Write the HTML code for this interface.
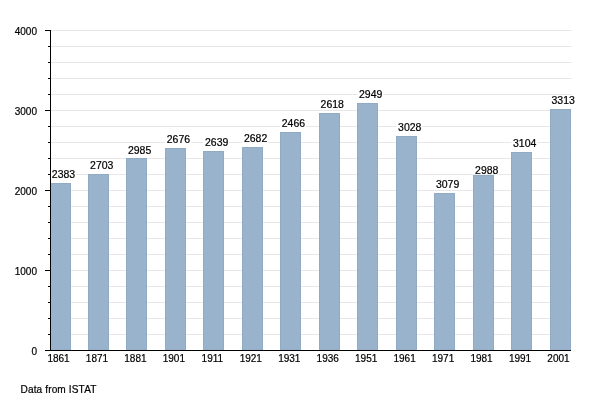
<!DOCTYPE html>
<html><head><meta charset="utf-8"><style>
html,body{margin:0;padding:0;background:#fff;width:600px;height:400px;overflow:hidden}
svg{display:block;will-change:transform}
text{font-family:"Liberation Sans",sans-serif;font-size:10.3px;fill:#000;stroke:#000;stroke-width:0.2px}
</style></head><body>
<svg width="600" height="400" viewBox="0 0 600 400">
<rect x="0" y="0" width="600" height="400" fill="#fff"/>
<line x1="51" y1="334.5" x2="571.5" y2="334.5" stroke="#e8e6e6" stroke-width="1"/>
<line x1="51" y1="318.5" x2="571.5" y2="318.5" stroke="#e8e6e6" stroke-width="1"/>
<line x1="51" y1="302.5" x2="571.5" y2="302.5" stroke="#e8e6e6" stroke-width="1"/>
<line x1="51" y1="286.5" x2="571.5" y2="286.5" stroke="#e8e6e6" stroke-width="1"/>
<line x1="51" y1="270.5" x2="571.5" y2="270.5" stroke="#e8e6e6" stroke-width="1"/>
<line x1="51" y1="254.5" x2="571.5" y2="254.5" stroke="#e8e6e6" stroke-width="1"/>
<line x1="51" y1="238.5" x2="571.5" y2="238.5" stroke="#e8e6e6" stroke-width="1"/>
<line x1="51" y1="222.5" x2="571.5" y2="222.5" stroke="#e8e6e6" stroke-width="1"/>
<line x1="51" y1="206.5" x2="571.5" y2="206.5" stroke="#e8e6e6" stroke-width="1"/>
<line x1="51" y1="190.5" x2="571.5" y2="190.5" stroke="#e8e6e6" stroke-width="1"/>
<line x1="51" y1="174.5" x2="571.5" y2="174.5" stroke="#e8e6e6" stroke-width="1"/>
<line x1="51" y1="158.5" x2="571.5" y2="158.5" stroke="#e8e6e6" stroke-width="1"/>
<line x1="51" y1="142.5" x2="571.5" y2="142.5" stroke="#e8e6e6" stroke-width="1"/>
<line x1="51" y1="126.5" x2="571.5" y2="126.5" stroke="#e8e6e6" stroke-width="1"/>
<line x1="51" y1="110.5" x2="571.5" y2="110.5" stroke="#e8e6e6" stroke-width="1"/>
<line x1="51" y1="94.5" x2="571.5" y2="94.5" stroke="#e8e6e6" stroke-width="1"/>
<line x1="51" y1="78.5" x2="571.5" y2="78.5" stroke="#e8e6e6" stroke-width="1"/>
<line x1="51" y1="62.5" x2="571.5" y2="62.5" stroke="#e8e6e6" stroke-width="1"/>
<line x1="51" y1="46.5" x2="571.5" y2="46.5" stroke="#e8e6e6" stroke-width="1"/>
<line x1="51" y1="30.5" x2="571.5" y2="30.5" stroke="#e8e6e6" stroke-width="1"/>
<rect x="50.5" y="183.5" width="20" height="166.5" fill="#99b3cc" stroke="#91abc5" stroke-width="1"/>
<rect x="88.5" y="174.5" width="20" height="175.5" fill="#99b3cc" stroke="#91abc5" stroke-width="1"/>
<rect x="126.5" y="158.5" width="20" height="191.5" fill="#99b3cc" stroke="#91abc5" stroke-width="1"/>
<rect x="165.5" y="148.5" width="20" height="201.5" fill="#99b3cc" stroke="#91abc5" stroke-width="1"/>
<rect x="203.5" y="151.5" width="20" height="198.5" fill="#99b3cc" stroke="#91abc5" stroke-width="1"/>
<rect x="242.5" y="147.5" width="20" height="202.5" fill="#99b3cc" stroke="#91abc5" stroke-width="1"/>
<rect x="280.5" y="132.5" width="20" height="217.5" fill="#99b3cc" stroke="#91abc5" stroke-width="1"/>
<rect x="319.5" y="113.5" width="20" height="236.5" fill="#99b3cc" stroke="#91abc5" stroke-width="1"/>
<rect x="357.5" y="103.5" width="20" height="246.5" fill="#99b3cc" stroke="#91abc5" stroke-width="1"/>
<rect x="396.5" y="136.5" width="20" height="213.5" fill="#99b3cc" stroke="#91abc5" stroke-width="1"/>
<rect x="434.5" y="193.5" width="20" height="156.5" fill="#99b3cc" stroke="#91abc5" stroke-width="1"/>
<rect x="473.5" y="175.5" width="20" height="174.5" fill="#99b3cc" stroke="#91abc5" stroke-width="1"/>
<rect x="511.5" y="152.5" width="20" height="197.5" fill="#99b3cc" stroke="#91abc5" stroke-width="1"/>
<rect x="550.5" y="109.5" width="20" height="240.5" fill="#99b3cc" stroke="#91abc5" stroke-width="1"/>
<rect x="50.00" y="168.90" width="26" height="9.6" fill="#fff"/>
<text transform="translate(51.80,177.70) scale(1.05,1)" style="font-size:10px">2383</text>
<rect x="88.30" y="160.30" width="26" height="9.6" fill="#fff"/>
<text transform="translate(90.10,169.10) scale(1.05,1)" style="font-size:10px">2703</text>
<rect x="126.10" y="144.90" width="26" height="9.6" fill="#fff"/>
<text transform="translate(127.90,153.70) scale(1.05,1)" style="font-size:10px">2985</text>
<rect x="164.90" y="134.10" width="26" height="9.6" fill="#fff"/>
<text transform="translate(166.70,142.90) scale(1.05,1)" style="font-size:10px">2676</text>
<rect x="203.20" y="137.20" width="26" height="9.6" fill="#fff"/>
<text transform="translate(205.00,146.00) scale(1.05,1)" style="font-size:10px">2639</text>
<rect x="242.10" y="133.20" width="26" height="9.6" fill="#fff"/>
<text transform="translate(243.90,142.00) scale(1.05,1)" style="font-size:10px">2682</text>
<rect x="279.90" y="118.10" width="26" height="9.6" fill="#fff"/>
<text transform="translate(281.70,126.90) scale(1.05,1)" style="font-size:10px">2466</text>
<rect x="318.80" y="99.30" width="26" height="9.6" fill="#fff"/>
<text transform="translate(320.60,108.10) scale(1.05,1)" style="font-size:10px">2618</text>
<rect x="357.20" y="89.10" width="26" height="9.6" fill="#fff"/>
<text transform="translate(359.00,97.90) scale(1.05,1)" style="font-size:10px">2949</text>
<rect x="396.30" y="122.40" width="26" height="9.6" fill="#fff"/>
<text transform="translate(398.10,131.20) scale(1.05,1)" style="font-size:10px">3028</text>
<rect x="434.10" y="179.20" width="26" height="9.6" fill="#fff"/>
<text transform="translate(435.90,188.00) scale(1.05,1)" style="font-size:10px">3079</text>
<rect x="473.30" y="164.80" width="26" height="9.6" fill="#fff"/>
<text transform="translate(475.10,173.60) scale(1.05,1)" style="font-size:10px">2988</text>
<rect x="511.20" y="138.50" width="26" height="9.6" fill="#fff"/>
<text transform="translate(513.00,147.30) scale(1.05,1)" style="font-size:10px">3104</text>
<rect x="549.70" y="95.20" width="26" height="9.6" fill="#fff"/>
<text transform="translate(551.50,104.00) scale(1.05,1)" style="font-size:10px">3313</text>
<line x1="50.5" y1="30" x2="50.5" y2="351" stroke="#000" stroke-width="1"/>
<line x1="45" y1="350.5" x2="571" y2="350.5" stroke="#000" stroke-width="1.2"/>
<line x1="45" y1="350.5" x2="51" y2="350.5" stroke="#000" stroke-width="1"/>
<line x1="48" y1="334.5" x2="51" y2="334.5" stroke="#000" stroke-width="1"/>
<line x1="48" y1="318.5" x2="51" y2="318.5" stroke="#000" stroke-width="1"/>
<line x1="48" y1="302.5" x2="51" y2="302.5" stroke="#000" stroke-width="1"/>
<line x1="48" y1="286.5" x2="51" y2="286.5" stroke="#000" stroke-width="1"/>
<line x1="45" y1="270.5" x2="51" y2="270.5" stroke="#000" stroke-width="1"/>
<line x1="48" y1="254.5" x2="51" y2="254.5" stroke="#000" stroke-width="1"/>
<line x1="48" y1="238.5" x2="51" y2="238.5" stroke="#000" stroke-width="1"/>
<line x1="48" y1="222.5" x2="51" y2="222.5" stroke="#000" stroke-width="1"/>
<line x1="48" y1="206.5" x2="51" y2="206.5" stroke="#000" stroke-width="1"/>
<line x1="45" y1="190.5" x2="51" y2="190.5" stroke="#000" stroke-width="1"/>
<line x1="48" y1="174.5" x2="51" y2="174.5" stroke="#000" stroke-width="1"/>
<line x1="48" y1="158.5" x2="51" y2="158.5" stroke="#000" stroke-width="1"/>
<line x1="48" y1="142.5" x2="51" y2="142.5" stroke="#000" stroke-width="1"/>
<line x1="48" y1="126.5" x2="51" y2="126.5" stroke="#000" stroke-width="1"/>
<line x1="45" y1="110.5" x2="51" y2="110.5" stroke="#000" stroke-width="1"/>
<line x1="48" y1="94.5" x2="51" y2="94.5" stroke="#000" stroke-width="1"/>
<line x1="48" y1="78.5" x2="51" y2="78.5" stroke="#000" stroke-width="1"/>
<line x1="48" y1="62.5" x2="51" y2="62.5" stroke="#000" stroke-width="1"/>
<line x1="48" y1="46.5" x2="51" y2="46.5" stroke="#000" stroke-width="1"/>
<line x1="45" y1="30.5" x2="51" y2="30.5" stroke="#000" stroke-width="1"/>
<text x="37" y="354.5" text-anchor="end" style="font-size:10px">0</text>
<text x="37" y="274.5" text-anchor="end" style="font-size:10px">1000</text>
<text x="37" y="194.5" text-anchor="end" style="font-size:10px">2000</text>
<text x="37" y="114.5" text-anchor="end" style="font-size:10px">3000</text>
<text x="37" y="34.5" text-anchor="end" style="font-size:10px">4000</text>
<text x="58.50" y="362" text-anchor="middle" style="font-size:10px">1861</text>
<text x="96.96" y="362" text-anchor="middle" style="font-size:10px">1871</text>
<text x="135.42" y="362" text-anchor="middle" style="font-size:10px">1881</text>
<text x="173.88" y="362" text-anchor="middle" style="font-size:10px">1901</text>
<text x="212.34" y="362" text-anchor="middle" style="font-size:10px">1911</text>
<text x="250.80" y="362" text-anchor="middle" style="font-size:10px">1921</text>
<text x="289.26" y="362" text-anchor="middle" style="font-size:10px">1931</text>
<text x="327.72" y="362" text-anchor="middle" style="font-size:10px">1936</text>
<text x="366.18" y="362" text-anchor="middle" style="font-size:10px">1951</text>
<text x="404.64" y="362" text-anchor="middle" style="font-size:10px">1961</text>
<text x="443.10" y="362" text-anchor="middle" style="font-size:10px">1971</text>
<text x="481.56" y="362" text-anchor="middle" style="font-size:10px">1981</text>
<text x="520.02" y="362" text-anchor="middle" style="font-size:10px">1991</text>
<text x="558.48" y="362" text-anchor="middle" style="font-size:10px">2001</text>
<text x="20.5" y="393.3" style="font-size:10.1px;letter-spacing:0.12px">Data from ISTAT</text>
</svg>
</body></html>
